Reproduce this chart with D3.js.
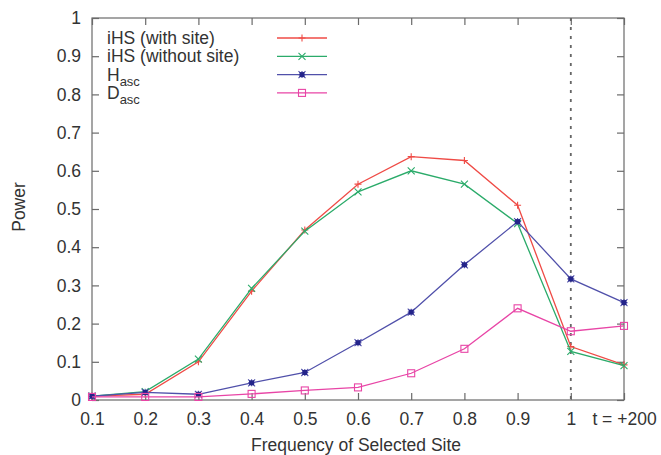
<!DOCTYPE html>
<html>
<head>
<meta charset="utf-8">
<script src="https://cdn.jsdelivr.net/npm/d3@7"></script>
<style>
  body { margin: 0; background: #fff; }
  text { font-family: "Liberation Sans", Arial, sans-serif; fill: #333; }
</style>
</head>
<body>
<div id="chart"></div>
<script>
// categories on the x axis
var cats = ["0.1", "0.2", "0.3", "0.4", "0.5", "0.6", "0.7", "0.8", "0.9", "1", "t = +200"];
var yTicks = [0, 0.1, 0.2, 0.3, 0.4, 0.5, 0.6, 0.7, 0.8, 0.9, 1];

// series values
var ihsWith    = [0.010, 0.015, 0.100, 0.285, 0.445, 0.565, 0.637, 0.627, 0.510, 0.140, 0.092];
var ihsWithout = [0.010, 0.022, 0.107, 0.292, 0.442, 0.545, 0.600, 0.565, 0.462, 0.127, 0.090];
var hAsc       = [0.010, 0.020, 0.015, 0.045, 0.072, 0.150, 0.230, 0.354, 0.467, 0.317, 0.255];
var dAsc       = [0.008, 0.008, 0.008, 0.016, 0.025, 0.033, 0.070, 0.134, 0.240, 0.180, 0.194];

var series = [
  {name: "iHS (with site)",    sub: null,  values: ihsWith,    color: "#ef4b46", marker: "plus"},
  {name: "iHS (without site)", sub: null,  values: ihsWithout, color: "#2bab6a", marker: "cross"},
  {name: "H",                  sub: "asc", values: hAsc,       color: "#5050aa", marker: "star"},
  {name: "D",                  sub: "asc", values: dAsc,       color: "#e845a6", marker: "box"}
];

var W = 661, H = 455;
var margin = {top: 18, right: 37, bottom: 55, left: 92};
var width = W - margin.left - margin.right,
    height = H - margin.top - margin.bottom;
var fs = "17.5px";

var svg = d3.select("#chart").append("svg")
    .attr("width", W)
    .attr("height", H);

var g = svg.append("g").attr("transform", "translate(" + margin.left + "," + margin.top + ")");

var x = d3.scalePoint().domain(cats).range([0, width]);
var y = d3.scaleLinear().domain([0, 1]).range([height, 0]);

// frame with inward ticks on all sides (gnuplot style)
g.append("rect").attr("width", width).attr("height", height)
  .attr("fill", "none").attr("stroke", "#6a6a6a").attr("stroke-width", 1.2);

var ax = g.append("g").attr("transform", "translate(0," + height + ")")
  .call(d3.axisBottom(x).tickSize(-7).tickPadding(13));
var axTop = g.append("g").call(d3.axisTop(x).tickSize(-7).tickFormat(""));
var ay = g.append("g").call(d3.axisLeft(y).tickValues(yTicks).tickSize(-7).tickPadding(11).tickFormat(d3.format("")));
var ayR = g.append("g").attr("transform", "translate(" + width + ",0)")
  .call(d3.axisRight(y).tickValues(yTicks).tickSize(-7).tickFormat(""));

[ax, axTop, ay, ayR].forEach(function (a) {
  a.select(".domain").remove();
  a.selectAll(".tick line").attr("stroke", "#6a6a6a").attr("stroke-width", 1.2);
  a.selectAll("text").style("font-size", fs).attr("fill", "#333")
    .style("font-family", "'Liberation Sans', Arial, sans-serif");
});

// dashed line at frequency 1
g.append("line")
  .attr("x1", x("1")).attr("x2", x("1"))
  .attr("y1", 0).attr("y2", height)
  .attr("stroke", "#666").attr("stroke-width", 1.8)
  .attr("stroke-dasharray", "3,6");

// axis titles
svg.append("text").attr("x", margin.left + width / 2 - 2).attr("y", 451)
  .attr("text-anchor", "middle").style("font-size", fs)
  .text("Frequency of Selected Site");
svg.append("text").attr("transform", "translate(25," + (margin.top + height / 2 - 2) + ") rotate(-90)")
  .attr("text-anchor", "middle").style("font-size", fs)
  .text("Power");

function drawMarker(sel, type, color) {
  var s = 3.5;
  if (type === "plus") {
    sel.append("path").attr("d", "M" + -s + ",0H" + s + "M0," + -s + "V" + s)
      .attr("stroke", color).attr("stroke-width", 1.1).attr("fill", "none");
  } else if (type === "cross") {
    sel.append("path").attr("d", "M" + -s + "," + -s + "L" + s + "," + s + "M" + -s + "," + s + "L" + s + "," + -s)
      .attr("stroke", color).attr("stroke-width", 1.1).attr("fill", "none");
  } else if (type === "star") {
    sel.append("path").attr("d", "M" + -s + ",0H" + s + "M0," + -s + "V" + s +
        "M" + -s + "," + -s + "L" + s + "," + s + "M" + -s + "," + s + "L" + s + "," + -s)
      .attr("stroke", color).attr("stroke-width", 1.1).attr("fill", "none");
    sel.append("rect").attr("x", -2.5).attr("y", -2.5).attr("width", 5).attr("height", 5)
      .attr("fill", "#24248a");
  } else {
    sel.append("rect").attr("x", -s).attr("y", -s).attr("width", 2 * s).attr("height", 2 * s)
      .attr("stroke", color).attr("stroke-width", 1.1).attr("fill", "none");
  }
}

var line = d3.line()
  .x(function (d, i) { return x(cats[i]); })
  .y(function (d) { return y(d); });

series.forEach(function (s) {
  g.append("path").datum(s.values)
    .attr("d", line)
    .attr("fill", "none")
    .attr("stroke", s.color)
    .attr("stroke-width", 1.3);
  g.selectAll(null).data(s.values).enter().append("g")
    .attr("transform", function (d, i) { return "translate(" + x(cats[i]) + "," + y(d) + ")"; })
    .each(function () { drawMarker(d3.select(this), s.marker, s.color); });
});

// legend
var leg = g.append("g").attr("transform", "translate(15,20)");
series.forEach(function (s, i) {
  var row = leg.append("g").attr("transform", "translate(0," + (i * 18.3) + ")");
  var t = row.append("text").attr("x", 0).attr("y", 6).style("font-size", fs).text(s.name);
  if (s.sub) {
    t.append("tspan").attr("dy", 5).style("font-size", "13px").text(s.sub);
  }
  row.append("line").attr("x1", 170).attr("x2", 220).attr("y1", 0).attr("y2", 0)
    .attr("stroke", s.color).attr("stroke-width", 1.3);
  var m = row.append("g").attr("transform", "translate(195,0)");
  drawMarker(m, s.marker, s.color);
});
</script>
</body>
</html>
